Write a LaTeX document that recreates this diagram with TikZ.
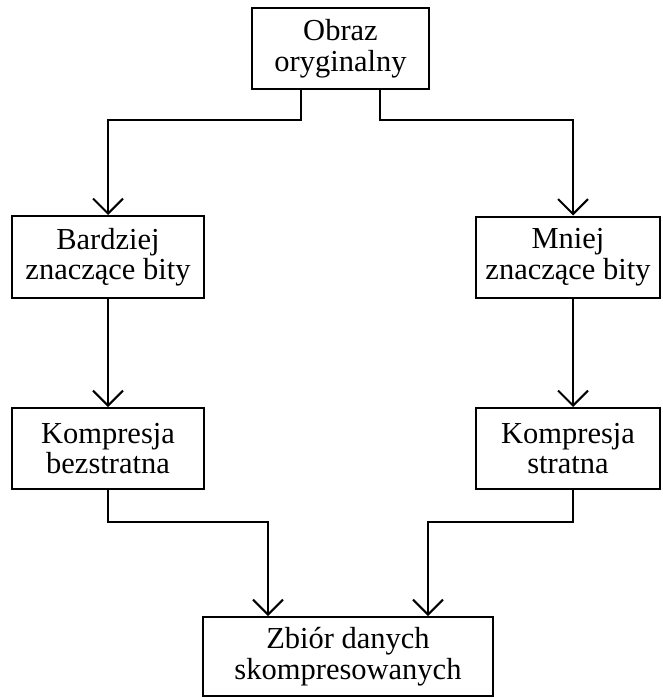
\documentclass[tikz,border=0pt]{standalone}
\usepackage{fontspec}
\setmainfont{Liberation Serif}
\usetikzlibrary{arrows.meta}
\begin{document}
\begin{tikzpicture}[x=1pt,y=1pt,
  box/.style={draw, line width=2pt, rectangle, inner sep=0pt, align=center,
    font=\fontsize{30.5}{30.5}\selectfont},
  arr/.style={line width=2pt, -{Straight Barb[length=15pt,width=30pt,line width=2pt]}}]
\useasboundingbox (0,0) rectangle (662,-698);
\node[box, minimum width=177pt, minimum height=81pt] (top) at (340.5,-48.5) {Obraz\\oryginalny};
\node[box, minimum width=192pt, minimum height=82pt] (l2) at (108,-257) {Bardziej\\znaczące bity};
\node[box, minimum width=184pt, minimum height=81pt] (r2) at (568,-257) {Mniej\\znaczące bity};
\node[box, minimum width=192pt, minimum height=81pt] (l3) at (108,-448.5) {Kompresja\\bezstratna};
\node[box, minimum width=184pt, minimum height=81pt] (r3) at (568,-448.5) {Kompresja\\stratna};
\node[box, minimum width=290pt, minimum height=79pt] (bot) at (348,-656.5) {Zbiór danych\\skompresowanych};
\draw[arr] ([xshift=-39.5pt]top.south) -- ++(0,-30) -| (l2.north);
\draw[arr] ([xshift=39.5pt]top.south) -- ++(0,-30) -| ([xshift=5pt]r2.north);
\draw[arr] (l2.south) -- (l3.north);
\draw[arr] ([xshift=5pt]r2.south) -- ([xshift=5pt]r3.north);
\draw[arr] (l3.south) -- ++(0,-32) -| ([xshift=-80pt]bot.north);
\draw[arr] ([xshift=5pt]r3.south) -- ++(0,-32) -| ([xshift=80pt]bot.north);
\end{tikzpicture}
\end{document}
